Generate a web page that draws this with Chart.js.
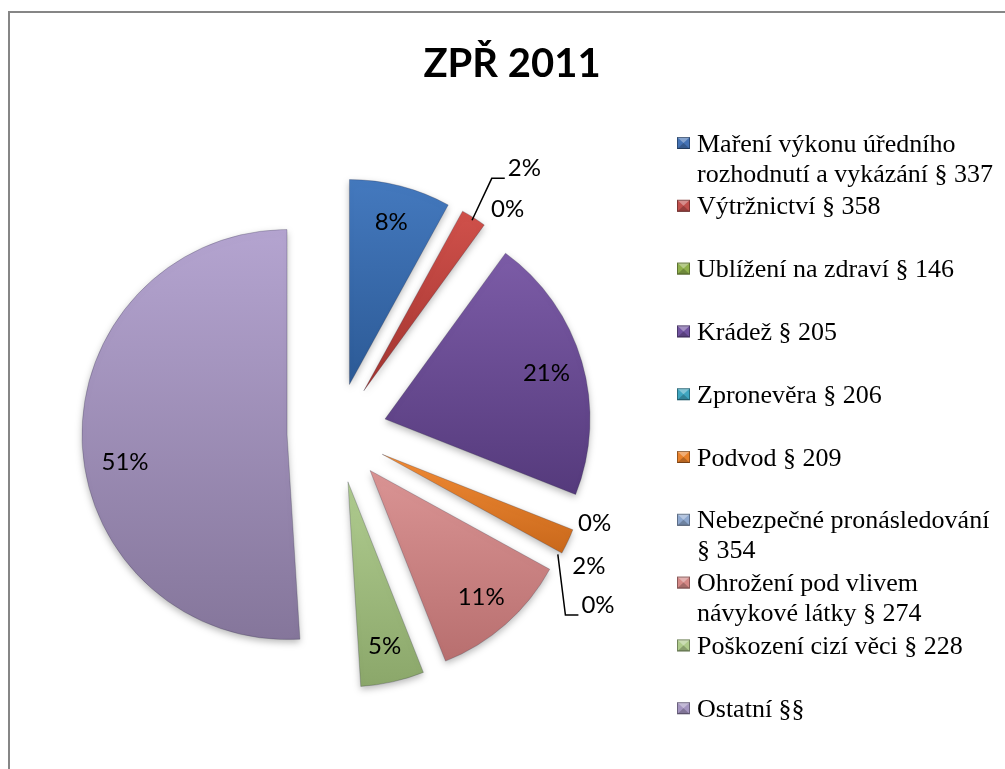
<!DOCTYPE html>
<html lang="cs">
<head>
<meta charset="utf-8">
<title>ZPŘ 2011</title>
<script src="https://cdn.jsdelivr.net/npm/chart.js@4.4.1/dist/chart.umd.min.js"></script>
<style>
  html, body { margin: 0; padding: 0; background: #fff; overflow: hidden; }
  #page { position: relative; width: 1005px; height: 769px; overflow: hidden; }
  #frame { position: absolute; left: 8px; top: 11px; width: 1100px; height: 900px; border: 2px solid #868686; }
  #holder { position: absolute; left: 0; top: 0; width: 1005px; height: 769px; }
</style>
</head>
<body>
<div id="page">
  <div id="frame"></div>
  <div id="holder"><canvas id="zprChart"></canvas></div>
</div>
<script>
// Data
const chartTitle = 'ZPŘ 2011';
const categories = [
    ['Maření výkonu úředního', 'rozhodnutí a vykázání § 337'],
    ['Výtržnictví § 358'],
    ['Ublížení na zdraví § 146'],
    ['Krádež § 205'],
    ['Zpronevěra § 206'],
    ['Podvod § 209'],
    ['Nebezpečné pronásledování', '§ 354'],
    ['Ohrožení pod vlivem', 'návykové látky § 274'],
    ['Poškození cizí věci § 228'],
    ['Ostatní §§'],
];
const shares = [8, 2, 0, 21, 0, 2, 0, 11, 5, 51];

// Barvy výsečí: [světlá nahoře, tmavá dole]
const sliceColors = [
    ['#4479BE', '#2C5A96'],
    ['#D0514B', '#A33430'],
    ['#A5C46A', '#7E9A45'],
    ['#7C5CA7', '#553A7C'],
    ['#4FB3CC', '#31899F'],
    ['#F28C36', '#C9681B'],
    ['#9BB5DC', '#6F8DBA'],
    ['#DA9494', '#B86F6F'],
    ['#B0CC90', '#8BA76A'],
    ['#B4A4D0', '#85769B'],
];
const markerColors = ['#4472B4', '#C0504D', '#8FB04C', '#7153A0', '#3FA6C0', '#E8822C',
    '#8EA8CF', '#D48886', '#AFCB8C', '#A495C0'];

const EXPLODE = 50;

// Gradient pro každou výseč podle její výšky
function sliceFill(context) {
    const pair = sliceColors[context.dataIndex];
    const arc = context.element;
    if (!arc || !arc.outerRadius) return pair[0];
    let top = arc.y, bottom = arc.y;
    for (let k = 0; k <= 24; k++) {
        const a = arc.startAngle + (arc.endAngle - arc.startAngle) * k / 24;
        const yy = arc.y + Math.sin(a) * arc.outerRadius;
        top = Math.min(top, yy);
        bottom = Math.max(bottom, yy);
    }
    if (bottom - top < 1) return pair[0];
    const g = context.chart.ctx.createLinearGradient(0, top, 0, bottom);
    g.addColorStop(0, pair[0]);
    g.addColorStop(1, pair[1]);
    return g;
}

// Vysunuté výseče (každá posunutá od středu)
const explodeSlices = {
    id: 'explodeSlices',
    beforeDatasetDraw(chart, args) {
        const ctx = chart.ctx;
        args.meta.data.forEach((arc) => {
            if (!arc.circumference) return;
            const mid = (arc.startAngle + arc.endAngle) / 2;
            ctx.save();
            ctx.shadowColor = 'rgba(0,0,0,0.28)';
            ctx.shadowBlur = 7;
            ctx.shadowOffsetY = 3;
            ctx.translate(Math.cos(mid) * EXPLODE, Math.sin(mid) * EXPLODE);
            arc.draw(ctx);
            ctx.restore();
        });
        return false;
    },
};

// Popisky procent
const sliceLabels = {
    id: 'sliceLabels',
    afterDatasetsDraw(chart, args, opts) {
        const ctx = chart.ctx;
        const meta = chart.getDatasetMeta(0);
        const values = chart.data.datasets[0].data;
        ctx.save();
        ctx.font = opts.font;
        ctx.fillStyle = '#000';
        ctx.strokeStyle = '#000';
        ctx.lineWidth = 1.5;
        ctx.textAlign = 'center';
        ctx.textBaseline = 'alphabetic';
        meta.data.forEach((arc, i) => {
            const mid = (arc.startAngle + arc.endAngle) / 2;
            const cx = arc.x + Math.cos(mid) * EXPLODE;
            const cy = arc.y + Math.sin(mid) * EXPLODE;
            const r = arc.outerRadius;
            const text = values[i] + '%';
            const shift = opts.shift[i] || [0, 0];
            const dist = values[i] >= opts.insideMin ? r * opts.inside : r + opts.gap;
            const lx = cx + Math.cos(mid) * dist + shift[0];
            const ly = cy + Math.sin(mid) * dist + shift[1];
            ctx.fillText(text, lx, ly + opts.capHalf);
            if (opts.leaders.includes(i)) {
                const w = ctx.measureText(text).width;
                const left = lx - w / 2;
                const base = ly + opts.capHalf + 2;
                ctx.beginPath();
                ctx.moveTo(cx + Math.cos(mid) * (r - 3), cy + Math.sin(mid) * (r - 3));
                ctx.lineTo(left - 16, base);
                ctx.lineTo(left - 3, base);
                ctx.stroke();
            }
        });
        ctx.restore();
    },
};

// Nadpis a legenda
const titleAndLegend = {
    id: 'titleAndLegend',
    afterDraw(chart, args, opts) {
        const ctx = chart.ctx;
        ctx.save();
        ctx.fillStyle = '#000';
        ctx.font = opts.titleFont;
        ctx.textAlign = 'center';
        ctx.textBaseline = 'alphabetic';
        ctx.fillText(chartTitle, opts.titleX, opts.titleY);

        ctx.font = opts.font;
        ctx.textAlign = 'left';
        chart.data.labels.forEach((lines, i) => {
            const y0 = opts.top + i * opts.step;
            const mx = opts.markerX, my = y0 - opts.markerH / 2;
            const w = opts.markerW, h = opts.markerH;
            ctx.fillStyle = markerColors[i];
            ctx.fillRect(mx, my, w, h);
            ctx.fillStyle = 'rgba(255,255,255,0.35)';
            ctx.beginPath();
            ctx.moveTo(mx, my); ctx.lineTo(mx + w, my); ctx.lineTo(mx + w / 2, my + h / 2);
            ctx.fill();
            ctx.fillStyle = 'rgba(0,0,0,0.22)';
            ctx.beginPath();
            ctx.moveTo(mx, my + h); ctx.lineTo(mx + w, my + h); ctx.lineTo(mx + w / 2, my + h / 2);
            ctx.fill();
            ctx.strokeStyle = 'rgba(0,0,0,0.35)';
            ctx.lineWidth = 1;
            ctx.strokeRect(mx + 0.5, my + 0.5, w - 1, h - 1);
            ctx.fillStyle = '#000';
            lines.forEach((line, k) => {
                ctx.fillText(line, opts.textX, y0 + k * opts.lineHeight + opts.capHalf);
            });
        });
        ctx.restore();
    },
};

const ctx = document.getElementById('zprChart').getContext('2d');
const zprChart = new Chart(ctx, {
    type: 'pie',
    data: {
        labels: categories,
        datasets: [{
            data: shares,
            backgroundColor: sliceFill,
            borderColor: 'rgba(40,40,60,0.25)',
            borderWidth: 1,
        }],
    },
    options: {
        responsive: true,
        maintainAspectRatio: false,
        animation: false,
        events: [],
        layout: {
            padding: { left: 131.5, top: 227.5, right: 462.5, bottom: 130.5 },
        },
        plugins: {
            legend: { display: false },
            title: { display: false },
            tooltip: { enabled: false },
            sliceLabels: {
                font: '24px Lato',
                capHalf: 8.5,
                insideMin: 5,
                inside: 0.82,
                gap: 20,
                shift: { 1: [40, -33], 2: [9, -2], 4: [2, -12], 5: [3, 15], 6: [20, 39], 9: [6, 22] },
                leaders: [1, 6],
            },
            titleAndLegend: {
                titleFont: 'bold 40px Lato',
                titleX: 512,
                titleY: 77,
                font: "26px 'Liberation Serif'",
                capHalf: 8.5,
                top: 143,
                step: 62.8,
                lineHeight: 30,
                markerX: 677,
                markerW: 13,
                markerH: 12,
                textX: 697,
            },
        },
    },
    plugins: [explodeSlices, sliceLabels, titleAndLegend],
});
// druhý průchod, aby gradienty znaly geometrii výsečí
zprChart.update();
</script>
</body>
</html>
